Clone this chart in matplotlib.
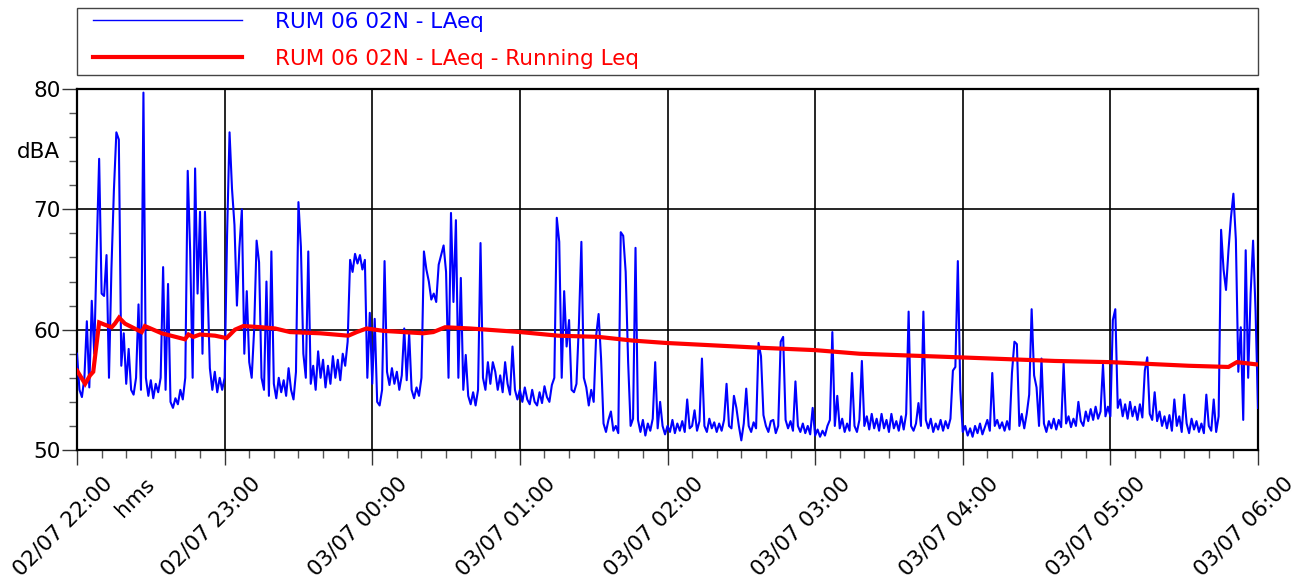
import numpy as np
import matplotlib
matplotlib.use("Agg")
import matplotlib.pyplot as plt
from matplotlib.transforms import ScaledTranslation
from matplotlib.patches import Rectangle

# ---------------- data ----------------
# LAeq, one value per minute from 02/07 22:00
laeq_h22 = [58.0, 55.0, 54.4, 56.0, 60.7, 55.2, 62.4, 58.0, 66.6, 74.2,
            63.0, 62.8, 66.2, 56.0, 65.1, 71.6, 76.4, 75.8, 57.0, 59.7,
            55.5, 58.4, 55.0, 54.6, 56.0, 62.1, 55.0, 79.7, 56.0, 54.5,
            55.8, 54.3, 55.5, 54.8, 56.0, 65.2, 55.0, 63.8, 54.0, 53.5,
            54.3, 53.8, 55.0, 54.2, 56.0, 73.2, 66.5, 56.0, 73.4, 63.0,
            69.8, 58.0, 69.8, 64.0, 56.8, 55.0, 56.5, 54.8, 56.0, 55.0]
laeq_h23 = [56.0, 67.9, 76.4, 71.7, 68.7, 62.0, 66.8, 70.0, 58.0, 63.2,
            57.3, 56.0, 60.0, 67.4, 65.6, 56.0, 55.0, 64.0, 54.5, 66.5,
            55.5, 54.3, 56.0, 54.8, 55.8, 54.5, 56.8, 55.0, 54.2, 56.5,
            70.6, 66.9, 58.0, 56.0, 66.5, 55.5, 57.0, 55.0, 58.2, 56.0,
            57.5, 55.2, 57.0, 55.5, 57.8, 56.0, 57.5, 55.8, 58.0, 57.0,
            59.0, 65.8, 64.8, 66.3, 65.5, 66.2, 65.0, 65.8, 56.0, 61.4]
laeq_h00 = [55.5, 60.9, 54.0, 53.7, 55.0, 65.7, 56.5, 55.4, 56.8, 55.5,
            56.5, 55.0, 56.2, 60.1, 55.8, 59.7, 55.0, 54.3, 55.2, 54.5,
            56.0, 66.5, 65.0, 64.0, 62.5, 63.0, 62.3, 65.4, 66.2, 67.0,
            64.8, 56.0, 69.7, 62.3, 69.1, 56.0, 64.3, 55.0, 57.9, 54.5,
            53.8, 54.8, 53.7, 55.0, 67.2, 56.0, 55.0, 57.3, 55.5, 57.3,
            56.5, 55.0, 56.2, 54.8, 57.3, 55.5, 54.6, 58.6, 55.0, 54.2]
laeq_h01 = [55.0, 54.0, 55.2, 54.2, 53.8, 55.0, 54.0, 53.7, 54.8, 53.9,
            55.3, 54.4, 54.0, 55.4, 56.0, 69.3, 67.3, 56.0, 63.2, 58.6,
            60.8, 55.0, 54.8, 55.5, 60.5, 67.3, 56.0, 55.2, 53.7, 55.0,
            54.0, 59.5, 61.3, 57.6, 52.2, 51.5, 52.5, 53.2, 51.6, 52.0,
            51.4, 68.1, 67.8, 64.8, 57.3, 52.0, 52.6, 66.8, 52.5, 51.5,
            52.5, 51.2, 52.2, 51.6, 52.6, 57.3, 51.8, 54.0, 52.0, 51.3]
laeq_h02 = [52.0, 51.5, 52.5, 51.4, 52.2, 51.6, 52.4, 51.5, 54.2, 51.8,
            52.0, 53.3, 51.6, 52.4, 57.6, 52.0, 51.5, 52.6, 51.8, 52.3,
            51.5, 52.2, 51.6, 52.5, 55.5, 52.0, 51.8, 54.5, 53.5, 52.0,
            50.8, 52.2, 55.1, 52.0, 51.5, 52.3, 51.8, 58.9, 57.8, 52.9,
            52.0, 51.5, 52.4, 52.5, 51.4, 52.0, 59.0, 59.4, 52.5, 51.8,
            52.4, 51.6, 55.7, 52.0, 51.5, 52.2, 51.4, 52.0, 51.3, 53.5]
laeq_h03 = [51.2, 51.7, 51.1, 51.6, 51.2, 52.0, 52.5, 59.8, 52.0, 54.5,
            51.8, 52.6, 51.5, 52.2, 51.6, 56.4, 52.0, 51.5, 52.5, 57.4,
            52.0, 52.8, 51.7, 53.0, 51.8, 52.6, 51.6, 53.0, 51.8, 52.5,
            51.5, 53.0, 51.8, 52.4, 51.6, 52.8, 51.7, 53.0, 61.5, 52.0,
            51.6, 52.2, 53.9, 52.0, 61.5, 52.5, 51.8, 52.6, 51.5, 52.2,
            51.7, 52.5, 51.6, 52.4, 51.8, 52.6, 56.6, 56.9, 65.7, 55.0]
laeq_h04 = [51.5, 52.0, 51.2, 51.8, 51.1, 52.0, 51.4, 52.2, 51.3, 51.9,
            52.5, 51.6, 56.4, 52.0, 52.5, 51.8, 52.3, 51.6, 52.4, 51.7,
            56.4, 59.0, 58.8, 52.0, 53.0, 51.8, 53.0, 54.6, 61.7, 56.2,
            55.2, 52.0, 57.6, 52.2, 51.5, 52.4, 51.8, 52.6, 51.7, 52.5,
            51.9, 57.2, 52.2, 52.8, 51.9, 52.6, 52.0, 54.0, 52.4, 52.0,
            53.2, 52.4, 53.4, 52.5, 53.6, 52.6, 53.2, 57.1, 52.8, 53.6]
laeq_h05 = [52.8, 60.8, 61.7, 53.5, 54.2, 52.8, 53.8, 52.6, 54.0, 52.8,
            53.6, 52.5, 53.8, 52.7, 56.6, 57.7, 53.0, 52.5, 54.8, 52.4,
            53.2, 52.0, 52.8, 51.8, 52.9, 51.6, 54.2, 52.0, 52.8, 51.5,
            54.6, 52.2, 51.4, 52.6, 51.7, 52.4, 51.5, 52.2, 51.4, 54.6,
            52.0, 51.6, 54.2, 51.5, 52.8, 68.3, 65.0, 63.3, 66.6, 69.3,
            71.3, 67.5, 56.5, 60.2, 52.5, 66.6, 56.0, 63.0, 67.4, 61.6,
            53.5]

# Running Leq (minutes from 22:00, dB)
run_min = [0, 3.3, 5.3, 6.6, 9.0, 11.4, 14.1, 15.4, 17.1, 19.5, 26.3, 27.6,
           34.4, 43.9, 45.3, 47.3, 50.0, 56.1, 60.8, 64.2, 67.6, 75.1, 80.5,
           86.6, 98.8, 110.3, 113.7, 117.7, 124.5, 132.6, 140.8, 144.8, 149.6,
           159.7, 180.2, 195.6, 211.9, 225.5, 239.0, 277.4, 300.0, 318.0,
           358.7, 397.5, 420.2, 451.8, 468.0, 471.4, 480]
run_leq = [56.6, 55.5, 56.2, 56.5, 60.6, 60.4, 60.2, 60.5, 61.0, 60.5, 59.8,
           60.3, 59.7, 59.2, 59.6, 59.4, 59.6, 59.5, 59.3, 60.0, 60.3, 60.2,
           60.1, 59.8, 59.7, 59.5, 59.8, 60.1, 59.9, 59.8, 59.7, 59.8, 60.2,
           60.1, 59.8, 59.5, 59.4, 59.1, 58.9, 58.5, 58.3, 58.0, 57.7, 57.4,
           57.3, 57.0, 56.9, 57.3, 57.1]

tick_labels = ["02/07 22:00", "02/07 23:00", "03/07 00:00", "03/07 01:00",
               "03/07 02:00", "03/07 03:00", "03/07 04:00", "03/07 05:00",
               "03/07 06:00"]
series_names = ["RUM 06 02N - LAeq", "RUM 06 02N - LAeq - Running Leq"]

# ---------------- figure ----------------
W, H = 1295, 579
FS = 15.5
plt.rcParams['font.family'] = ['DejaVu Sans']
fig = plt.figure(figsize=(W / 100, H / 100), dpi=100)
ax = fig.add_axes([77 / W, 1 - 450 / H, (1258 - 77) / W, (450 - 89) / H])

laeq = laeq_h22 + laeq_h23 + laeq_h00 + laeq_h01 + laeq_h02 + laeq_h03 + laeq_h04 + laeq_h05
minutes = np.arange(len(laeq))

l1, = ax.plot(minutes, laeq, color=(0, 0, 1), lw=1.5, zorder=3)
l2, = ax.plot(run_min, run_leq, color=(1, 0, 0), lw=3.0, zorder=4,
              solid_joinstyle='miter')

ax.set_xlim(0, 480)
ax.set_ylim(50, 80)
ax.set_xticks(np.arange(0, 481, 60))
ax.set_xticks(np.arange(0, 481, 10), minor=True)
ax.set_yticks([50, 60, 70, 80])
ax.set_yticks(np.arange(50, 81, 2), minor=True)
ax.grid(True, which='major', color='black', lw=1.2)
ax.set_axisbelow(True)
for s in ax.spines.values():
    s.set_linewidth(1.6)
    s.set_color('black')

ax.tick_params(axis='both', which='major', direction='out', length=11,
               width=1.0, labelsize=FS, color='#333333')
ax.tick_params(axis='both', which='minor', direction='out', length=5.5,
               width=1.0, color='#555555')
ax.tick_params(axis='y', which='major', pad=0.5)
ax.tick_params(axis='x', which='major', pad=0)

ax.set_yticklabels([str(v) for v in [50, 60, 70, 80]])
ax.set_xticklabels(tick_labels, rotation=45, ha='right', va='top',
                   rotation_mode='anchor')
off = ScaledTranslation(0.25, -0.08, fig.dpi_scale_trans)
for lab in ax.get_xticklabels():
    lab.set_transform(lab.get_transform() + off)

fig.text(38 / W, 1 - 152 / H, "dBA", fontsize=FS, ha='center', va='center')
fig.text(135 / W, 1 - 497 / H, "hms", fontsize=FS, ha='center', va='center',
         rotation=45)

# legend box
fig.patches.append(Rectangle((77 / W, 1 - 75 / H), (1258 - 77) / W, 67 / H,
                             transform=fig.transFigure, fill=False,
                             edgecolor='#444444', lw=1.0))
leg = fig.legend([l1, l2], series_names, loc='upper left',
                 bbox_to_anchor=(93 / W, 1 - 12 / H),
                 bbox_transform=fig.transFigure, frameon=False,
                 borderpad=0, borderaxespad=0, fontsize=FS,
                 handlelength=6.9, handletextpad=1.55, labelspacing=0.78,
                 labelcolor='linecolor')
leg.get_lines()[0].set_linewidth(1.0)
leg.get_lines()[1].set_linewidth(3.0)

fig.savefig("out.png", dpi=100)
